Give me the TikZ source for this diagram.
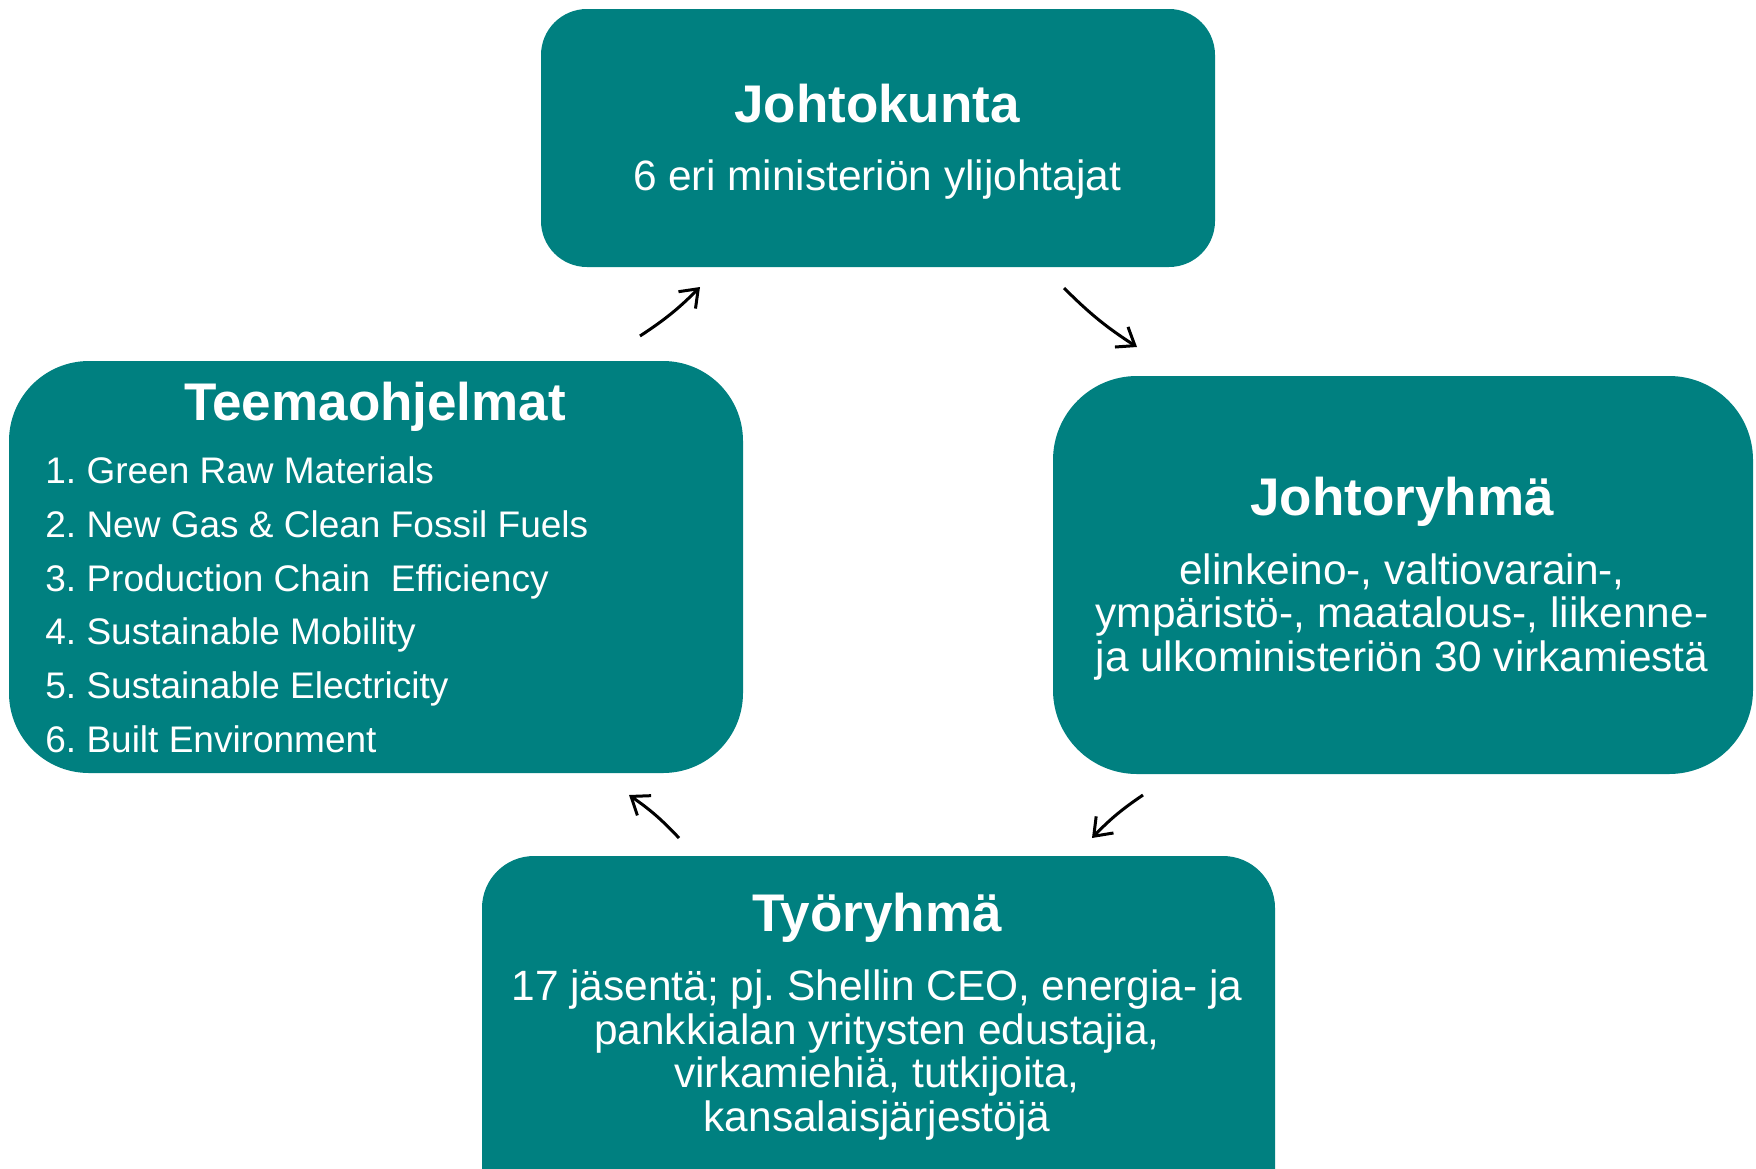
\documentclass[tikz,border=0pt]{standalone}
\usepackage{fontspec}
\setmainfont{Liberation Sans}
\usetikzlibrary{arrows.meta}
\definecolor{boxteal}{RGB}{0,128,128}

\begin{document}
\frenchspacing
\begin{tikzpicture}[x=0.5pt, y=-0.5pt,
    box/.style={fill=boxteal, draw=none, inner sep=0pt, rounded corners=#1},
    title/.style={text=white, anchor=base, font=\fontsize{26.5pt}{30pt}\selectfont\bfseries},
    body/.style={text=white, align=center, font=\fontsize{21.2pt}{21.9pt}\selectfont},
    item/.style={text=white, anchor=base west, inner sep=0pt, font=\fontsize{18.5pt}{22pt}\selectfont},
    cycle/.style={draw=black, line width=1.5pt, -{Straight Barb[length=8pt, width=12pt]}}]
    \useasboundingbox (0,0) rectangle (1756,1168);

    % boxes
    \node[box=23pt, minimum width=337pt, minimum height=129pt] (kunta) at (878,138) {};
    \node[box=40pt, minimum width=367pt, minimum height=206pt] (teema) at (376,567) {};
    \node[box=42pt, minimum width=350pt, minimum height=199pt] (ryhma) at (1403,575) {};
    \node[box=26pt, minimum width=396.5pt, minimum height=187pt] (tyo) at (878.5,1043) {};

    % texts
    \node[title] (kunta-title) at (877,122) {Johtokunta};
    \node[body, anchor=base] (kunta-body) at (877,190) {6 eri ministeriön ylijohtajat};

    \node[title] (teema-title) at (375,420) {Teemaohjelmat};
    \node[item] (teema-1) at (45,483) {1. Green Raw Materials};
    \node[item] (teema-2) at (45,537) {2. New Gas \& Clean Fossil Fuels};
    \node[item] (teema-3) at (45,591) {3. Production Chain\ \ Efficiency};
    \node[item] (teema-4) at (45,644) {4. Sustainable Mobility};
    \node[item] (teema-5) at (45,698) {5. Sustainable Electricity};
    \node[item] (teema-6) at (45,752) {6. Built Environment};

    \node[title] (ryhma-title) at (1402,515) {Johtoryhmä};
    \node[body] (ryhma-body) at (1402,617) {elinkeino-, valtiovarain-,\\ympäristö-, maatalous-, liikenne-\\ja ulkoministeriön 30 virkamiestä};

    \node[title] (tyo-title) at (877,931) {Työryhmä};
    \node[body] (tyo-body) at (877,1055) {17 jäsentä; pj. Shellin CEO, energia- ja\\pankkialan yritysten edustajia,\\virkamiehiä, tutkijoita,\\kansalaisjärjestöjä};

    % cycle arrows
    \coordinate (teema-out) at (640,336);
    \coordinate (kunta-in) at (700,287);
    \coordinate (kunta-out) at (1064,288);
    \coordinate (ryhma-in) at (1137,347);
    \coordinate (ryhma-out) at (1143,795);
    \coordinate (tyo-in) at (1092,838);
    \coordinate (tyo-out) at (679,838);
    \coordinate (teema-in) at (629,795);

    \draw[cycle] (teema-out) to[bend right=6] (kunta-in);
    \draw[cycle] (kunta-out) to[bend right=6] (ryhma-in);
    \draw[cycle] (ryhma-out) to[bend right=6] (tyo-in);
    \draw[cycle] (tyo-out) to[bend right=6] (teema-in);
\end{tikzpicture}
\end{document}
